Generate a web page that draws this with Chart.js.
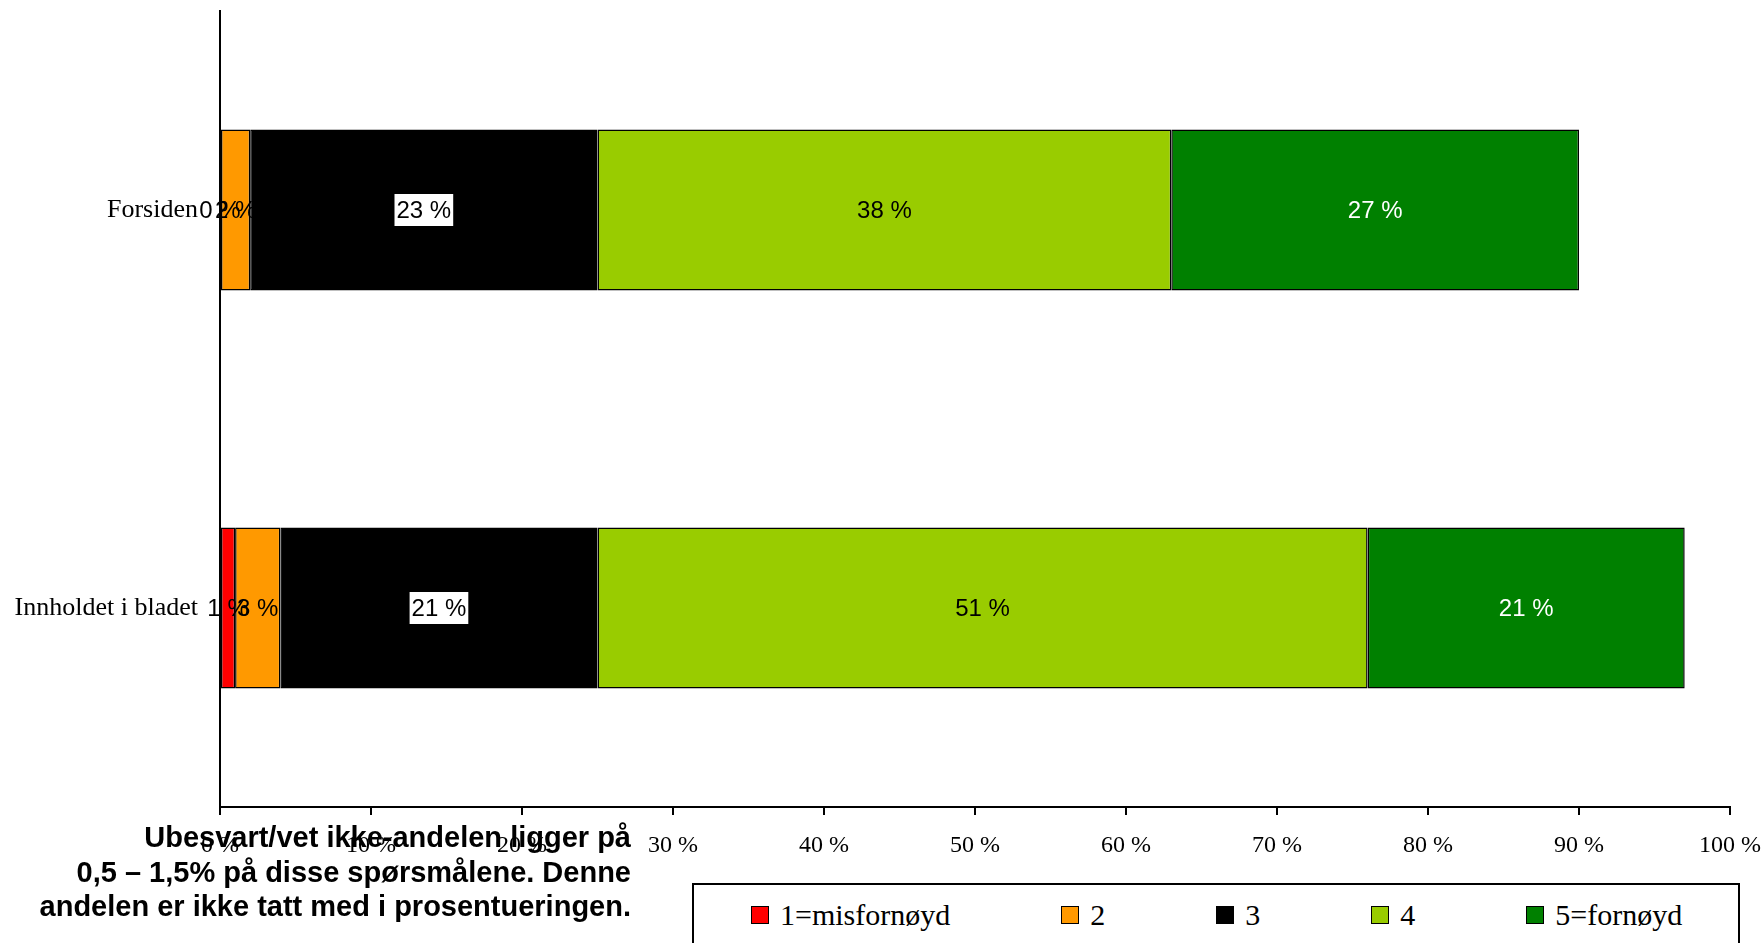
<!DOCTYPE html>
<html>
<head>
<meta charset="utf-8">
<script src="https://cdn.jsdelivr.net/npm/chart.js@4.4.0/dist/chart.umd.min.js"></script>
<style>
  html, body { margin: 0; padding: 0; background: #fff; }
  #wrap { position: relative; width: 1764px; height: 943px; overflow: hidden; }
  #chart { position: absolute; left: 0; top: 0; }
  #note {
    position: absolute; left: 0; top: 820px; width: 631px;
    text-align: right; color: #000;
    font: bold 29px "Liberation Sans", Arial, sans-serif;
    line-height: 34.5px;
  }
  #legend {
    position: absolute; left: 692px; top: 883px; width: 1048px; height: 110px;
    box-sizing: border-box; border: 2px solid #000; background: #fff;
    display: flex; align-items: flex-start; padding-left: 57px; padding-top: 12px;
  }
  .item { display: flex; align-items: center; margin-right: 111px; height: 36px; }
  .item span.box { width: 16px; height: 16px; border: 1px solid #000; margin-right: 11px; }
  .item span.txt { font: 30px "Liberation Serif", "Times New Roman", serif; color: #000; }
</style>
</head>
<body>
<div id="wrap">
  <canvas id="chart" width="1764" height="943"></canvas>
  <div id="note">Ubesvart/vet ikke-andelen ligger på<br>0,5 – 1,5% på disse spørsmålene. Denne<br>andelen er ikke tatt med i prosentueringen.</div>
  <div id="legend"></div>
</div>
<script>
"use strict";

const categories = ["Forsiden", "Innholdet i bladet"];
const seriesNames = ["1=misfornøyd", "2", "3", "4", "5=fornøyd"];
const misfornoyd = [0, 1];
const score2 = [2, 3];
const score3 = [23, 21];
const score4 = [38, 51];
const fornoyd = [27, 21];
const seriesColors = ["#ff0000", "#ff9900", "#000000", "#99cc00", "#008000"];
const labelColors = ["#000", "#000", "#000", "#000", "#fff"];
const labelBoxes = [false, false, true, false, false];
const xTickStep = 10;

const seriesValues = [misfornoyd, score2, score3, score4, fornoyd];

// labels in the middle of every bar segment
const segmentLabels = {
  id: "segmentLabels",
  afterDatasetsDraw(chart) {
    const ctx = chart.ctx;
    ctx.save();
    ctx.font = "24px 'Liberation Sans', Arial, sans-serif";
    ctx.textAlign = "center";
    ctx.textBaseline = "middle";
    chart.data.datasets.forEach((ds, i) => {
      chart.getDatasetMeta(i).data.forEach((bar, j) => {
        const text = ds.data[j] + " %";
        const cx = (bar.x + bar.base) / 2;
        const cy = bar.y;
        if (labelBoxes[i]) {
          const w = ctx.measureText(text).width + 4;
          ctx.fillStyle = "#fff";
          ctx.fillRect(cx - w / 2, cy - 16, w, 32);
        }
        ctx.fillStyle = labelColors[i];
        ctx.fillText(text, cx, cy + 1);
      });
    });
    ctx.restore();
  }
};

const chart = new Chart(document.getElementById("chart"), {
  type: "bar",
  data: {
    labels: categories,
    datasets: seriesValues.map((vals, i) => ({
      label: seriesNames[i],
      data: vals,
      backgroundColor: seriesColors[i],
      borderColor: "#000",
      borderWidth: 1.5,
      borderSkipped: false,
      barPercentage: 0.405,
      categoryPercentage: 1
    }))
  },
  options: {
    indexAxis: "y",
    responsive: false,
    animation: false,
    layout: { padding: { top: 11, right: 34, left: 0, bottom: 0 } },
    plugins: { legend: { display: false }, tooltip: { enabled: false } },
    scales: {
      x: {
        type: "linear",
        stacked: true,
        min: 0,
        max: 100,
        afterFit: (scale) => {
          scale.height = 136;
          scale.paddingLeft = 0;
          scale.paddingRight = 0;
        },
        ticks: {
          stepSize: xTickStep,
          callback: (v) => v + " %",
          color: "#000",
          font: { family: "'Liberation Serif', 'Times New Roman', serif", size: 24 },
          padding: 16,
          maxRotation: 0
        },
        grid: { display: true, drawOnChartArea: false, drawTicks: true, tickLength: 8, color: "#000", lineWidth: 2 },
        border: { display: true, color: "#000", width: 2 }
      },
      y: {
        stacked: true,
        afterFit: (scale) => {
          scale.width = 220;
          scale.paddingTop = 0;
          scale.paddingBottom = 0;
        },
        ticks: {
          color: "#000",
          font: { family: "'Liberation Serif', 'Times New Roman', serif", size: 26 },
          padding: 22
        },
        grid: { display: false, drawTicks: false },
        border: { display: true, color: "#000", width: 2 }
      }
    }
  },
  plugins: [segmentLabels]
});

// legend box built from the chart's own datasets
const legend = document.getElementById("legend");
chart.data.datasets.forEach((ds) => {
  const item = document.createElement("div");
  item.className = "item";
  item.innerHTML = '<span class="box" style="background:' + ds.backgroundColor + '"></span><span class="txt">' + ds.label + "</span>";
  legend.appendChild(item);
});
</script>
</body>
</html>
